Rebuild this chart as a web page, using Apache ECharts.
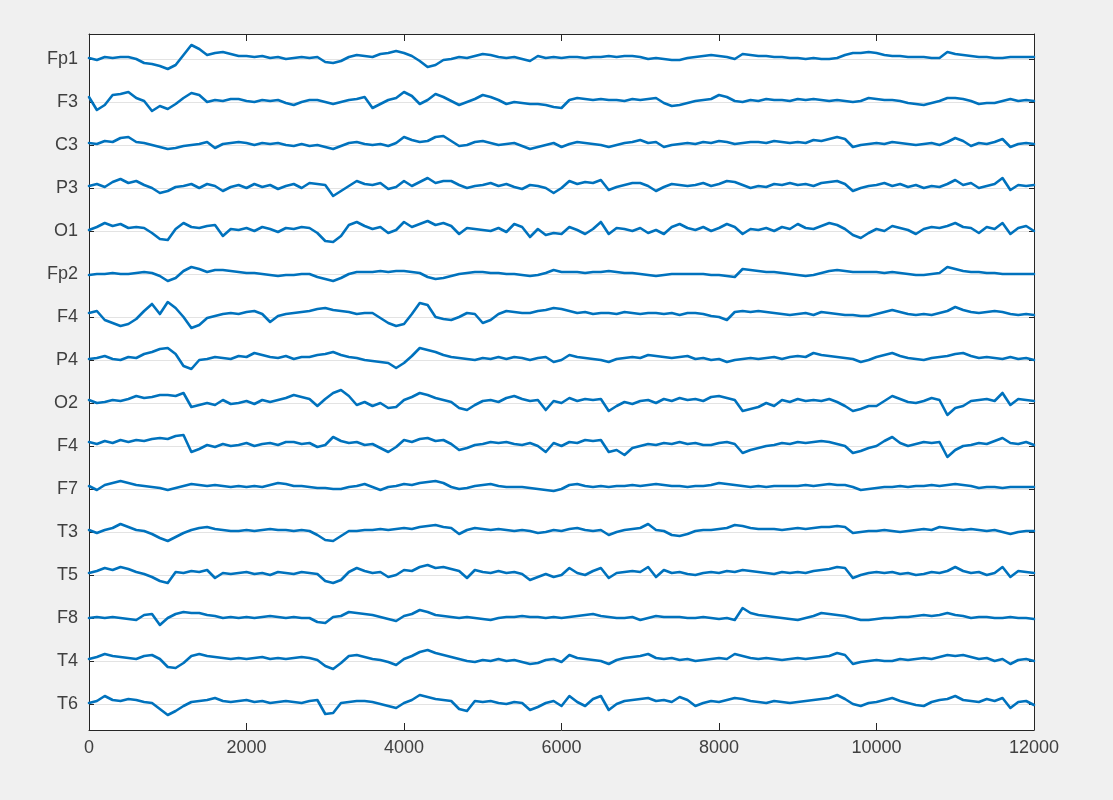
<!DOCTYPE html>
<html>
<head>
<meta charset="utf-8">
<script src="https://cdn.jsdelivr.net/npm/echarts@6/dist/echarts.min.js"></script>
<style>
html,body{margin:0;padding:0;background:#f0f0f0;}
#chart{width:1113px;height:800px;}
</style>
</head>
<body>
<div id="chart"></div>
<script>
// Channel names, top to bottom
const channels = ['Fp1','F3','C3','P3','O1','Fp2','F4','P4','O2','F4','F7','T3','T5','F8','T4','T6'];
// Sample positions (every 100 samples, 0..12000)
const sampleStep = 100;
const xTickValues = [0, 2000, 4000, 6000, 8000, 10000, 12000];
// Montage spacing between channel baselines (µV)
const channelSpacing = 43;

// Amplitudes (µV), one value every 100 samples
const fp1 = [1,-1,2,1,2,2,0,-4,-5,-7, -10,-6,4,14,10,4,6,7,5,3, 3,2,3,1,2,0,1,2,1,2, -3,-4,-2,2,4,3,2,5,6,8, 6,3,-2,-8,-6,-1,0,2,1,3, 5,4,2,1,2,0,-2,3,1,2, 1,2,2,1,2,2,3,2,3,3, 2,0,1,0,-1,-1,1,2,3,4, 3,2,0,5,4,3,3,2,2,1, 1,0,1,0,0,1,4,6,6,7, 6,4,3,3,2,2,2,1,1,7, 5,4,3,2,2,1,1,2,2,2, 2];
const f3 = [5,-8,-3,7,8,10,4,1,-9,-4, -7,-2,4,9,7,0,2,1,3,3, 1,0,2,1,2,-1,-3,0,2,2, 0,-2,0,2,3,5,-6,-2,2,4, 10,6,-2,2,8,5,1,-3,0,3, 7,5,2,-2,0,-1,-2,-2,-3,-5, -6,2,4,3,2,3,2,2,1,3, 2,3,4,-1,-4,-3,-1,1,2,3, 7,5,1,0,2,1,3,2,2,1, 3,2,3,2,1,2,1,0,1,4, 3,2,2,1,-1,-2,-3,-1,1,4, 4,3,1,-2,-1,-1,1,3,1,2, 1];
const c3 = [2,1,4,3,7,8,3,2,0,-2, -4,-3,-1,0,1,3,-3,1,2,3, 2,0,2,1,2,0,-1,1,-1,0, -2,-4,-1,2,3,1,0,1,-1,2, 8,5,3,4,8,9,4,-1,0,3, 4,2,0,1,2,-1,-4,-2,0,2, -2,1,3,2,1,0,-2,0,2,3, 5,2,3,-2,0,1,2,1,3,2, 4,3,1,2,3,3,2,4,3,2, 3,2,5,4,6,8,6,-2,0,1, 2,1,3,2,1,0,1,2,0,3, 7,4,-1,2,1,3,6,-2,1,2, 1];
const p3 = [2,4,1,6,9,5,7,3,0,-5, -3,1,2,4,0,4,2,-3,1,3, 0,4,1,3,-1,2,4,0,5,4, 3,-8,-3,2,7,4,3,5,-1,1, 7,2,6,10,5,7,7,3,0,2, 3,5,2,4,1,-1,3,2,0,-5, 0,7,4,6,5,8,-2,1,3,5, 5,2,-3,1,4,3,2,3,5,2, 4,7,6,3,0,2,1,4,3,5, 3,4,2,5,6,7,4,-3,0,2, 3,5,2,4,1,3,0,2,1,4, 8,3,5,0,2,4,10,-2,3,2, 3];
const o1 = [1,4,8,5,7,3,4,3,-2,-8, -9,2,8,4,3,5,6,-5,2,1, 3,0,4,2,-1,3,2,4,3,-2, -10,-11,-5,6,9,5,2,4,-2,1, 9,4,7,10,6,8,5,-3,3,2, 1,0,3,-1,7,4,-6,2,-4,-2, -3,4,1,-3,2,9,-3,3,2,0, 3,-2,1,-3,4,7,3,1,4,0, 3,7,4,-3,2,1,3,0,4,2, 7,3,2,5,8,6,2,-4,-7,-2, 2,0,5,3,1,-3,2,4,3,5, 8,4,3,-2,4,2,8,-3,3,5, 0];
const fp2 = [-1,0,0,1,0,0,1,2,1,-2, -7,-4,3,7,5,2,4,4,3,2, 1,1,0,-1,-2,-1,-1,0,0,-3, -5,-7,-4,0,2,2,2,3,2,3, 3,2,1,-3,-5,-4,-2,0,1,2, 2,1,1,0,0,-1,-2,-1,1,4, 2,2,2,1,2,2,3,2,1,1, 0,-1,-2,-1,0,0,0,0,0,-1, -1,-2,-3,5,4,3,2,2,1,0, -1,-2,-1,1,3,4,3,2,2,2, 2,1,2,1,0,-1,-1,0,1,7, 5,3,2,2,1,1,0,0,0,0, 0];
const f4a = [4,6,-3,-6,-9,-7,-2,6,13,3, 15,9,0,-11,-8,-1,1,3,4,3, 5,6,3,-5,1,3,4,5,6,8, 9,7,6,5,3,4,4,-1,-6,-9, -7,3,14,12,0,-2,-3,0,4,3, -6,-3,3,6,5,4,4,6,7,9, 8,6,4,5,3,4,4,3,5,4, 3,4,4,3,4,2,4,4,3,1, 0,-3,5,6,5,6,5,4,3,2, 3,4,2,5,4,3,2,2,1,1, 3,5,7,5,3,2,3,2,4,6, 10,7,5,4,5,6,5,3,2,3, 2];
const p4 = [1,2,4,1,0,3,2,6,8,11, 12,6,-6,-9,0,1,3,2,1,4, 3,7,5,3,2,4,1,3,3,5, 6,8,5,3,2,0,-1,-2,-3,-8, -3,4,12,10,8,5,3,2,1,0, 2,1,3,1,3,2,0,2,3,-2, 0,5,3,2,1,0,-2,1,2,3, 2,5,4,3,2,3,4,1,2,0, 1,-2,0,1,2,1,2,3,1,3, 4,3,7,5,4,3,2,1,-2,0, 3,5,7,4,2,1,0,2,3,4, 6,7,4,2,3,2,1,3,1,2, 0];
const o2 = [3,0,1,3,2,4,7,5,6,8, 8,7,10,-4,-2,0,-2,3,-1,0, 2,-1,3,1,3,5,8,6,4,-3, 4,10,13,7,-2,1,-3,0,-5,-4, 3,6,10,8,5,3,1,-5,-7,-2, 2,3,1,5,7,4,2,3,-7,2, 0,5,2,4,3,4,-8,-3,1,-1, 2,3,0,4,2,5,3,4,2,6, 7,5,3,-8,-6,-4,0,-3,3,1, 4,2,3,2,4,1,-3,-8,-6,-3, -3,2,7,4,1,0,2,5,3,-12, -5,-3,2,3,4,2,10,-2,4,3, 2];
const f4b = [4,2,5,3,6,4,6,5,7,8, 7,10,11,-6,-3,1,-1,2,0,1, 3,0,2,3,1,4,4,2,3,-1, 1,9,5,3,4,1,2,-2,-6,-1, 6,4,7,8,5,6,2,-4,-2,1, 2,4,3,4,2,1,3,0,-6,3, 0,4,3,6,5,6,-6,-4,-9,-2, 0,2,1,3,2,4,2,3,1,1, 3,4,2,-7,-4,-2,0,1,3,2, 4,3,4,5,4,2,0,-7,-5,-2, 0,5,9,3,0,2,4,3,4,-11, -4,0,1,3,2,5,8,3,2,4, 1];
const f7 = [3,-1,4,6,8,6,4,3,2,1, -1,1,3,5,4,3,4,3,2,3, 2,3,2,4,6,5,3,3,2,1, 1,0,0,2,3,5,2,-1,2,3, 5,4,6,7,8,6,2,0,1,3, 4,5,3,2,2,2,1,0,-1,-2, 0,4,5,3,2,3,2,3,3,4, 3,4,5,4,3,3,2,3,3,4, 6,5,4,3,2,3,2,3,3,3, 3,4,3,4,5,4,4,2,-1,0, 1,2,2,3,2,3,3,4,3,4, 5,4,3,1,2,2,1,2,2,2, 2];
const t3 = [2,-1,2,4,8,5,2,1,-2,-6, -9,-5,-1,2,4,5,3,2,1,1, 2,1,2,3,2,2,1,2,1,-3, -8,-9,-4,1,1,2,2,3,2,3, 4,3,5,6,7,5,4,-2,2,4, 3,2,3,2,1,2,1,-1,0,2, 1,3,4,2,1,2,-3,0,2,3, 4,8,2,1,-3,-4,-2,1,2,2, 3,4,7,6,4,3,3,3,2,3, 4,3,4,5,5,6,5,-1,0,1, 1,2,1,0,1,2,3,2,5,4, 3,2,3,2,1,2,0,-2,0,1, 1];
const t5 = [2,4,7,5,8,6,3,1,-2,-6, -8,3,2,4,3,5,-3,2,1,2, 3,1,2,0,3,2,1,3,2,1, -6,-8,-5,3,7,4,2,3,-2,0, 5,4,8,10,7,8,6,4,-3,5, 3,2,4,2,3,1,-5,-2,1,-2, 0,7,2,0,4,7,-3,2,3,4, 3,8,-2,5,2,3,1,0,2,3, 2,4,3,5,4,3,2,1,3,2, 3,2,4,5,6,8,7,-3,0,2, 3,2,3,1,2,0,1,3,2,4, 8,4,2,3,0,2,8,-2,4,3, 2];
const f8 = [0,1,0,1,0,-1,-2,3,4,-7, 0,4,6,5,5,3,2,0,1,0, 1,0,1,2,1,0,1,0,0,-4, -5,1,2,6,5,4,3,1,-1,-3, 2,4,8,6,3,2,1,0,1,0, -1,-2,0,1,1,2,1,1,0,1, 0,1,2,3,4,2,1,0,0,1, -2,0,2,1,1,1,0,0,1,0, -1,0,-2,10,5,3,2,1,0,-1, -2,0,2,5,4,3,2,0,-2,-2, -1,0,0,1,1,2,3,2,3,5, 3,2,0,1,1,0,0,1,0,0, -1];
const t4 = [2,4,7,5,4,3,2,5,6,2, -6,-7,-2,5,7,5,4,3,2,3, 2,3,4,2,3,2,3,4,3,1, -5,-8,-2,5,6,4,2,1,-1,-4, 2,5,9,11,8,6,4,2,0,-1, 1,0,2,0,1,-1,-3,-2,1,2, -1,6,3,2,1,0,-3,1,3,4, 5,7,3,2,3,1,2,0,1,2, 3,2,7,5,3,2,3,2,1,2, 3,2,3,4,5,8,6,-3,-1,0, 1,0,0,2,1,2,3,2,4,6, 5,6,4,2,3,0,2,-3,1,2, 0];
const t6 = [1,3,8,4,3,5,4,2,1,-5, -11,-7,-2,2,3,4,6,3,2,3, 4,2,3,1,2,3,2,1,3,4, -10,-9,1,2,3,3,2,0,-2,-4, 1,4,9,7,5,4,3,-5,-7,3, 2,3,1,0,2,1,-6,-3,1,3, -2,8,2,-2,5,8,-6,0,3,4, 5,6,3,4,2,7,4,-2,1,3, 2,4,6,5,3,2,1,3,2,1, 2,3,4,5,6,9,5,0,-2,1, 2,4,6,3,1,-1,-2,2,4,5, 8,4,3,2,5,3,6,-4,2,3, -1];

const signals = [fp1, f3, c3, p3, o1, fp2, f4a, p4, o2, f4b, f7, t3, t5, f8, t4, t6];
const nCh = channels.length;
const baselines = channels.map((_, k) => (nCh - k) * channelSpacing);

const series = signals.map((sig, k) => ({
  type: 'line',
  name: channels[k],
  xAxisIndex: 0,
  yAxisIndex: 0,
  showSymbol: false,
  symbol: 'none',
  animation: false,
  lineStyle: { color: '#0072BD', width: 2.6, join: 'round', cap: 'round' },
  data: sig.map((v, i) => [i * sampleStep, baselines[k] + v])
}));

const chart = echarts.init(document.getElementById('chart'), null, { renderer: 'canvas' });
const yMin = channelSpacing - 26, yMax = yMin + 696;
const axisColor = '#262626';
const labelColor = '#404040';
const fontFam = '"Liberation Sans", Arial, Helvetica, sans-serif';

chart.setOption({
  backgroundColor: '#f0f0f0',
  animation: false,
  grid: { left: 89, right: 79, top: 34, bottom: 70, show: true, backgroundColor: '#ffffff', borderWidth: 0 },
  xAxis: [
    {
      type: 'value', min: 0, max: 12000, interval: 2000, position: 'bottom',
      axisLine: { show: true, onZero: false, lineStyle: { color: axisColor, width: 1 } },
      axisTick: { show: true, inside: true, length: 7, lineStyle: { color: axisColor } },
      axisLabel: { color: labelColor, fontSize: 18, fontFamily: fontFam, margin: 9,
                   customValues: xTickValues, formatter: v => String(v) },
      splitLine: { show: false }
    },
    {
      type: 'value', min: 0, max: 12000, interval: 2000, position: 'top',
      axisLine: { show: true, onZero: false, lineStyle: { color: axisColor, width: 1 } },
      axisTick: { show: true, inside: true, length: 7, lineStyle: { color: axisColor } },
      axisLabel: { show: false },
      splitLine: { show: false }
    }
  ],
  yAxis: [
    {
      type: 'value', min: yMin, max: yMax, position: 'left',
      axisLine: { show: true, onZero: false, lineStyle: { color: axisColor, width: 1 } },
      axisTick: { show: true, inside: true, length: 5, customValues: baselines, lineStyle: { color: axisColor } },
      axisLabel: { show: true, color: labelColor, fontSize: 18, fontFamily: fontFam, margin: 11,
                   customValues: baselines,
                   formatter: v => channels[nCh - Math.round(v / channelSpacing)] },
      splitLine: { show: true, customValues: baselines, lineStyle: { color: '#e3e3e3', width: 1 } }
    },
    {
      type: 'value', min: yMin, max: yMax, position: 'right',
      axisLine: { show: true, onZero: false, lineStyle: { color: axisColor, width: 1 } },
      axisTick: { show: true, inside: true, length: 5, customValues: baselines, lineStyle: { color: axisColor } },
      axisLabel: { show: false },
      splitLine: { show: false }
    }
  ],
  series: series
});
</script>
</body>
</html>
